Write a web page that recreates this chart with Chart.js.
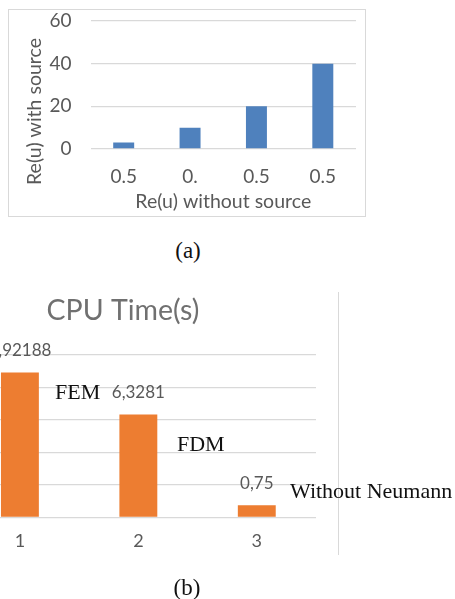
<!DOCTYPE html>
<html>
<head>
<meta charset="utf-8">
<script src="https://cdn.jsdelivr.net/npm/chart.js@4.4.0/dist/chart.umd.min.js"></script>
<style>
  body { margin: 0; width: 455px; height: 599px; background: #fff; position: relative; overflow: hidden; font-family: Lato, sans-serif; }
  #boxA { position: absolute; left: 8px; top: 9px; width: 356px; height: 206px; border: 1px solid #d9d9d9; }
  #wrapB { position: absolute; left: -93px; top: 285px; width: 432px; height: 275px; }
  #sep { position: absolute; left: 338px; top: 292px; width: 0; height: 263px; border-left: 1.5px solid #d9d9d9; }
  .cap { position: absolute; font-family: "Liberation Serif", serif; font-size: 23px; line-height: 1; color: #111; transform: translate(-50%, -50%); }
  .note { position: absolute; font-family: "Liberation Serif", serif; font-size: 22px; line-height: 1; color: #111; white-space: nowrap; }
</style>
</head>
<body>
<div id="boxA"><canvas id="chartA" width="356" height="206"></canvas></div>
<div class="cap" style="left:188px; top:250px;">(a)</div>

<div id="wrapB"><canvas id="chartB" width="432" height="275"></canvas></div>
<div id="sep"></div>
<div class="note" style="left:55px; top:381px;">FEM</div>
<div class="note" style="left:177px; top:433px;">FDM</div>
<div class="note" style="left:290px; top:480px;">Without Neumann</div>
<div class="cap" style="left:187px; top:587px;">(b)</div>

<script>
// chart (a)
const reLabels = ['0.5', '0.', '0.5', '0.5'];
const reWithSource = [3, 10, 20, 40];
const reTicks = [0, 20, 40, 60];

// chart (b)
const cpuLabels = ['1', '2', '3'];
const cpuTimes = [8.92188, 6.3281, 0.75];
const cpuTicks = [0, 2, 4, 6, 8, 10];

const grey = '#595959';
const gridGrey = '#d9d9d9';

const yTitleA = {
  id: 'yTitleA',
  afterDraw(chart) {
    const ctx = chart.ctx;
    ctx.save();
    ctx.translate(26, 101.5);
    ctx.rotate(-Math.PI / 2);
    ctx.font = '19.5px Lato';
    ctx.fillStyle = grey;
    ctx.textAlign = 'center';
    ctx.textBaseline = 'middle';
    ctx.fillText('Re(u) with source', 0, 0);
    ctx.restore();
  }
};

const valueLabels = {
  id: 'valueLabels',
  afterDatasetsDraw(chart) {
    const ctx = chart.ctx;
    ctx.save();
    ctx.font = '17px Lato';
    ctx.fillStyle = grey;
    ctx.textAlign = 'center';
    ctx.textBaseline = 'middle';
    chart.getDatasetMeta(0).data.forEach((bar, i) => {
      ctx.fillText(String(cpuTimes[i]).replace('.', ','), bar.x, bar.y - 22);
    });
    ctx.restore();
  }
};

new Chart('chartA', {
  type: 'bar',
  data: {
    labels: reLabels,
    datasets: [{ data: reWithSource, backgroundColor: '#4f81bd', barPercentage: 0.316, categoryPercentage: 1 }]
  },
  options: {
    responsive: false,
    animation: false,
    layout: { padding: { top: 11, right: 9, left: 0, bottom: 0 } },
    plugins: { legend: { display: false }, tooltip: { enabled: false } },
    scales: {
      x: {
        grid: { display: false, drawTicks: false },
        border: { display: false },
        ticks: { padding: 16.5, color: grey, font: { family: 'Lato', size: 19 } },
        title: { display: true, text: 'Re(u) without source', color: grey, font: { family: 'Lato', size: 19.5 }, padding: { top: 0, bottom: 3 } },
        afterFit: s => { s.height = 67; s.paddingLeft = 0; s.paddingRight = 0; }
      },
      y: {
        min: 0, max: 60,
        afterBuildTicks: s => { s.ticks = reTicks.map(v => ({ value: v })); },
        ticks: { padding: 19, color: grey, font: { family: 'Lato', size: 19 } },
        grid: { color: gridGrey, lineWidth: 1.3, drawTicks: false },
        border: { display: false },
        afterFit: s => { s.width = 81.5; s.paddingTop = 0; s.paddingBottom = 0; }
      }
    }
  },
  plugins: [yTitleA]
});

new Chart('chartB', {
  type: 'bar',
  data: {
    labels: cpuLabels,
    datasets: [{ data: cpuTimes, backgroundColor: '#ed7d31', barPercentage: 0.32, categoryPercentage: 1 }]
  },
  options: {
    responsive: false,
    animation: false,
    layout: { padding: { top: 0, right: 23, left: 23, bottom: 0 } },
    plugins: {
      legend: { display: false },
      tooltip: { enabled: false },
      title: { display: true, text: 'CPU Time(s)', color: '#707070', font: { family: 'Lato', size: 28.5, weight: 'normal' }, padding: { top: 9, bottom: 26.8 } }
    },
    scales: {
      x: {
        grid: { display: false, drawTicks: false },
        border: { display: false },
        ticks: { padding: 13.5, color: grey, font: { family: 'Lato', size: 18 } },
        afterFit: s => { s.height = 42.7; s.paddingLeft = 0; s.paddingRight = 0; }
      },
      y: {
        min: 0, max: 10,
        afterBuildTicks: s => { s.ticks = cpuTicks.map(v => ({ value: v })); },
        ticks: { display: false },
        grid: { color: gridGrey, lineWidth: 1.3, drawTicks: false },
        border: { display: false },
        afterFit: s => { s.width = 30.7; s.paddingTop = 0; s.paddingBottom = 0; }
      }
    }
  },
  plugins: [valueLabels]
});
</script>
</body>
</html>
